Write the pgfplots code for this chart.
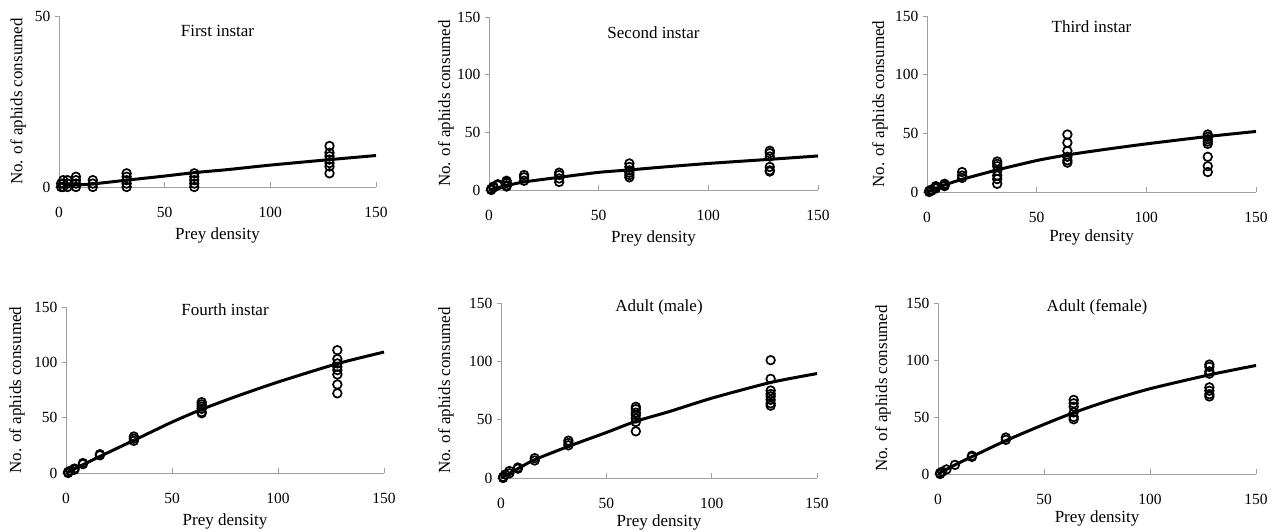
\documentclass[border=0pt]{standalone}
\usepackage{fontspec}
\setmainfont{Liberation Serif}
\usepackage{pgfplots}
\pgfplotsset{compat=1.18}

\pgfplotsset{
  panel/.style={
    scale only axis, clip=false,
    anchor=south west,
    xmin=0, xmax=150, ymin=0,
    axis lines*=left,
    axis line style={gray!75, line width=0.9bp},
    xtick={0,50,100,150},
    tick align=inside,
    major tick length=5bp,
    every tick/.style={gray!75, line width=0.9bp},
    ytick style={xshift=-4bp},
    /pgf/number format/assume math mode=true,
    tick label style={font=\fontsize{15.5bp}{18bp}\selectfont},
    xticklabel style={yshift=-17bp},
    yticklabel style={xshift=-5bp},
    label style={font=\fontsize{17bp}{20bp}\selectfont},
    xlabel={Prey density},
    ylabel={No. of aphids consumed},
  },
  ylab/.style={y label style={at={(axis description cs:#1,0.5)}, anchor=center}},
  xlab/.style={x label style={at={(axis description cs:0.5,0)}, anchor=center, yshift=-#1}},
  pts/.style={only marks, mark=o, mark size=4.3bp, black, mark options={line width=1.7bp}},
  fit/.style={black, line width=3bp, no marks, smooth, tension=0.4},
}
\newcommand{\paneltitle}[2]{\node[font=\fontsize{17bp}{20bp}\selectfont] at ([yshift=#1]rel axis cs:0.5,1) {#2};}

\begin{document}
\begin{tikzpicture}
\useasboundingbox (0,0) rectangle (1276bp,532bp);

% first instar
\begin{axis}[panel, at={(59bp,345bp)}, width=317bp, height=171bp,
  ymax=50, ytick={0,50}, ylab=-0.129, xlab=48bp]
\addplot[pts] coordinates {
 (1,0) (1,1) (2,0) (2,1) (2,2) (4,0) (4,1) (4,2)
 (8,0) (8,1) (8,2) (8,3) (16,0) (16,1) (16,2)
 (32,0) (32,1) (32,2) (32,3) (32,4) (64,0) (64,1) (64,2) (64,3) (64,4)
 (128,4) (128,6) (128,7) (128,8) (128,9) (128,10) (128,12)};
\addplot[fit] coordinates {
 (2,0.5) (8,0.6) (16,0.9) (32,2) (50,3.2) (64,4.2) (80,5.1) (100,6.4) (128,8) (150,9.2)};
\paneltitle{-15bp}{First instar}
\end{axis}

% second instar
\begin{axis}[panel, at={(489bp,342bp)}, width=329bp, height=173bp,
  ymax=150, ytick={0,50,100,150}, ylab=-0.131, xlab=48bp]
\addplot[pts] coordinates {
 (1,0) (1,1) (2,2) (2,3) (4,4) (4,5)
 (8,3) (8,4) (8,6) (8,7) (8,8) (16,8) (16,11) (16,13)
 (32,7) (32,10) (32,13) (32,15) (64,11) (64,13) (64,15) (64,17) (64,20) (64,23)
 (128,16) (128,17) (128,20) (128,29) (128,32) (128,34)};
\addplot[fit] coordinates {
 (0,0) (4,2) (8,3.8) (16,7) (32,11) (50,15.3) (64,17.4) (80,20) (100,23) (128,26.6) (150,29.5)};
\paneltitle{-16bp}{Second instar}
\end{axis}

% third instar
\begin{axis}[panel, at={(927bp,340bp)}, width=329bp, height=176bp,
  ymax=150, ytick={0,50,100,150}, ylab=-0.143, xlab=45bp]
\addplot[pts] coordinates {
 (1,0) (1,1) (2,1) (2,2) (4,3) (4,4) (4,5)
 (8,5) (8,6) (8,7) (16,12) (16,14) (16,17)
 (32,7) (32,11) (32,14) (32,18) (32,22) (32,24) (32,26)
 (64,25) (64,27) (64,30) (64,35) (64,42) (64,49)
 (128,17) (128,22) (128,30) (128,41) (128,43) (128,45) (128,47) (128,49)};
\addplot[fit] coordinates {
 (0,0) (4,3) (8,6) (16,10.8) (32,18.8) (50,26.8) (64,31.6) (80,36) (100,41) (128,47.3) (150,51.6)};
\paneltitle{-11bp}{Third instar}
\end{axis}

% fourth instar
\begin{axis}[panel, at={(66bp,59bp)}, width=318bp, height=166bp,
  ymax=150, ytick={0,50,100,150}, ylab=-0.154, xlab=48bp]
\addplot[pts] coordinates {
 (1,0) (1,1) (2,2) (4,3) (4,4) (8,8) (8,9) (16,16) (16,17)
 (32,29) (32,31) (32,33) (64,54) (64,55) (64,58) (64,60) (64,62) (64,64)
 (128,72) (128,80) (128,89) (128,93) (128,96) (128,99) (128,103) (128,111)};
\addplot[fit] coordinates {
 (0,0) (8,7.5) (16,15) (32,29.5) (50,46) (64,57.5) (80,69) (100,82.2) (128,98.8) (150,109.3)};
\paneltitle{-3bp}{Fourth instar}
\end{axis}

% adult male
\begin{axis}[panel, at={(501bp,54bp)}, width=316bp, height=175bp,
  ymax=150, ytick={0,50,100,150}, ylab=-0.174, xlab=44bp]
\addplot[pts] coordinates {
 (1,0) (1,1) (2,3) (4,4) (4,6) (8,8) (8,9) (16,15) (16,17)
 (32,28) (32,30) (32,32) (64,40) (64,48) (64,51) (64,54) (64,56) (64,59) (64,61)
 (128,62) (128,64) (128,67) (128,70) (128,72) (128,75) (128,85) (128,101)};
\addplot[fit] coordinates {
 (0,0) (8,8) (16,15.7) (32,27.1) (50,39) (64,48.6) (80,57) (100,68.4) (128,81.9) (150,89.5)};
\paneltitle{-4bp}{Adult (male)}
\end{axis}

% adult female
\begin{axis}[panel, at={(938bp,58bp)}, width=318bp, height=171bp,
  ymax=150, ytick={0,50,100,150}, ylab=-0.173, xlab=44bp]
\addplot[pts] coordinates {
 (1,0) (1,1) (2,2) (4,4) (8,8) (16,15) (16,16) (32,30) (32,32)
 (64,48) (64,50) (64,54) (64,59) (64,62) (64,65)
 (128,68) (128,70) (128,73) (128,76) (128,88) (128,90) (128,94) (128,96)};
\addplot[fit] coordinates {
 (0,0) (8,8) (16,15.2) (32,29.3) (50,43.5) (64,53.8) (80,64) (100,74.8) (128,87) (150,95.2)};
\paneltitle{-4bp}{Adult (female)}
\end{axis}
\end{tikzpicture}
\end{document}
